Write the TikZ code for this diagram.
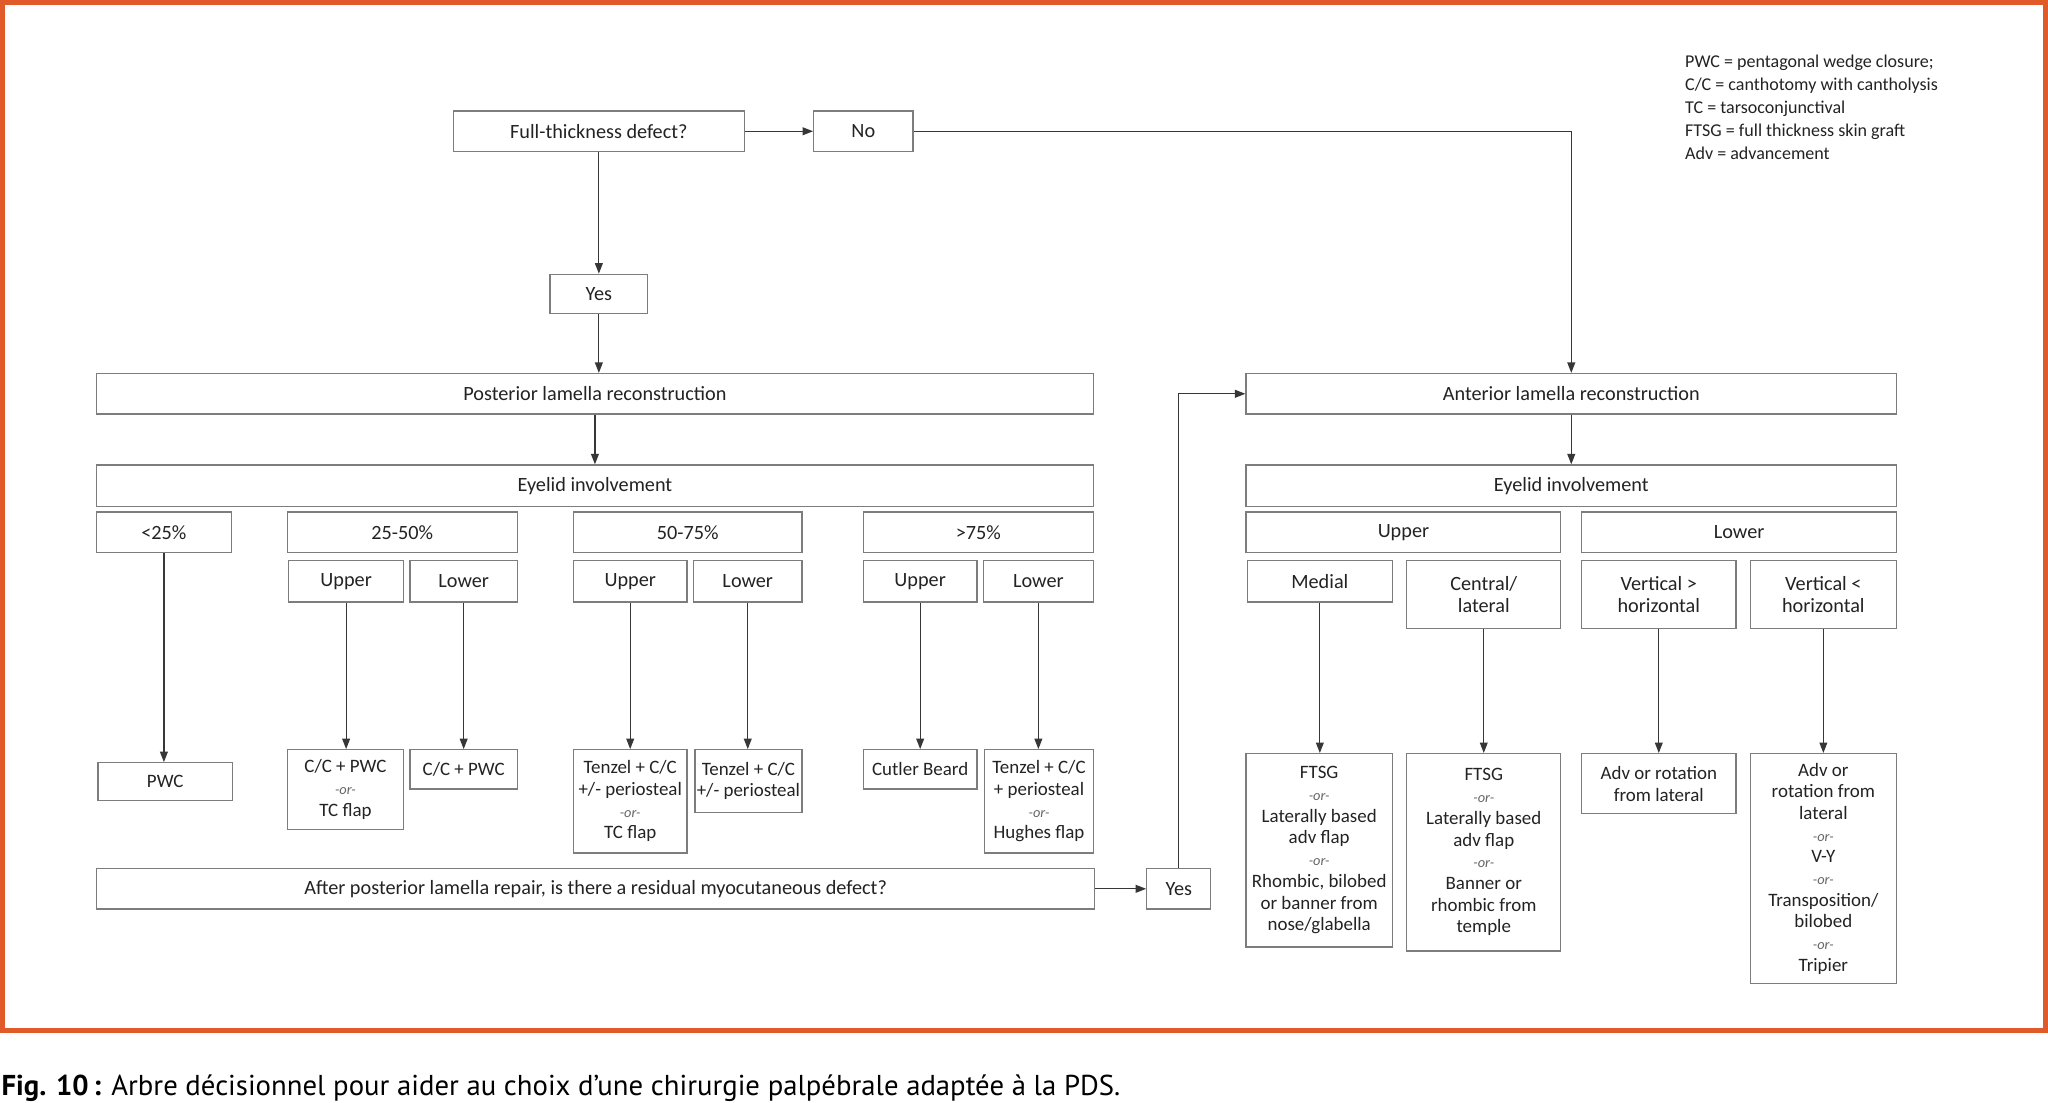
\documentclass[tikz,border=0pt]{standalone}
\usepackage{fontspec}
\setmainfont{Carlito}
\newfontfamily\capfont{PT Sans}
\usetikzlibrary{arrows.meta,calc}
\definecolor{orng}{HTML}{E05A2A}
\definecolor{boxc}{RGB}{125,125,125}
\definecolor{linec}{RGB}{55,55,55}
\definecolor{txtc}{RGB}{35,35,35}
\newcommand{\Bx}[7][]{%
  \node[bx,#1,minimum width={(#5-#3)*1pt},minimum height={(#6-#4)*1pt}] (#2) at ({(#3+#5)/2},{(#4+#6)/2}) {#7};}
\newcommand{\orr}{{\fontsize{11}{11}\selectfont\itshape\color{black!60}-or-}}
\begin{document}
\begin{tikzpicture}[x=1pt,y=-1pt,
  bx/.style={draw=boxc,line width=1pt,fill=white,inner sep=0pt,align=center,text=txtc,
     font=\fontsize{15.5}{17}\selectfont},
  sm/.style={font=\fontsize{14.5}{16.6}\selectfont},
  arr/.style={draw=linec,line width=0.9pt,-{Triangle[length=8pt,width=6pt]}},
  ln/.style={draw=linec,line width=0.9pt}]
\useasboundingbox (0,0) rectangle (1568,844);
\fill[white] (0,0) rectangle (1568,844);
\draw[orng,line width=3.5pt] (1.75,1.75) rectangle (1566.25,789);

% top
\Bx{full}{347}{85}{570}{116}{Full-thickness defect?}
\Bx{no}{623}{85}{699}{116}{No}
\Bx{yesA}{421}{210}{496}{240}{Yes}
\Bx{post}{74}{286}{837}{317}{Posterior lamella reconstruction}
\Bx{eyeL}{74}{356}{837}{388}{Eyelid involvement}
\Bx{pA}{74}{392}{177}{423}{<25\%}
\Bx{pB}{220}{392}{396}{423}{25-50\%}
\Bx{pC}{439}{392}{614}{423}{50-75\%}
\Bx{pD}{661}{392}{837}{423}{>75\%}
\Bx{uA}{221}{429}{309}{461}{Upper}
\Bx{lA}{314}{429}{396}{461}{Lower}
\Bx{uB}{439}{429}{526}{461}{Upper}
\Bx{lB}{531}{429}{614}{461}{Lower}
\Bx{uC}{661}{429}{748}{461}{Upper}
\Bx{lC}{753}{429}{837}{461}{Lower}
\Bx[sm]{rA}{75}{584}{178}{613}{PWC}
\Bx[sm]{rB}{220}{574}{309}{635}{C/C + PWC\\\orr\\TC flap}
\Bx[sm]{rC}{314}{574}{396}{604}{C/C + PWC}
\Bx[sm]{rD}{439}{574}{526}{653}{Tenzel + C/C\\+/- periosteal\\\orr\\TC flap}
\Bx[sm]{rE}{532}{574}{614}{622}{Tenzel + C/C\\+/- periosteal}
\Bx[sm]{rF}{661}{574}{748}{604}{Cutler Beard}
\Bx[sm]{rG}{754}{574}{837}{653}{Tenzel + C/C\\+ periosteal\\\orr\\Hughes flap}
\Bx{after}{74}{665}{838}{696}{After posterior lamella repair, is there a residual myocutaneous defect?}
\Bx{yesB}{878}{665}{927}{696}{Yes}

% right side
\Bx{ant}{954}{286}{1452}{317}{Anterior lamella reconstruction}
\Bx{eyeR}{954}{356}{1452}{388}{Eyelid involvement}
\Bx{uR}{954}{392}{1195}{423}{Upper}
\Bx{lR}{1211}{392}{1452}{423}{Lower}
\Bx{med}{955}{429}{1066}{461}{Medial}
\Bx{cen}{1077}{429}{1195}{481}{Central/\\lateral}
\Bx{vg}{1211}{429}{1329}{481}{Vertical >\\horizontal}
\Bx{vl}{1340}{429}{1452}{481}{Vertical <\\horizontal}
\Bx[sm]{fA}{954}{577}{1066}{725}{FTSG\\\orr\\Laterally based\\adv flap\\\orr\\Rhombic, bilobed\\or banner from\\nose/glabella}
\Bx[sm]{fB}{1077}{577}{1195}{728}{FTSG\\\orr\\Laterally based\\adv flap\\\orr\\Banner or\\rhombic from\\temple}
\Bx[sm]{fC}{1211}{577}{1329}{623}{Adv or rotation\\from lateral}
\Bx[sm]{fD}{1340}{577}{1452}{753}{Adv or\\rotation from\\lateral\\\orr\\V-Y\\\orr\\Transposition/\\bilobed\\\orr\\Tripier}

% legend
\node[anchor=north west,align=left,inner sep=0pt,text=txtc,font=\fontsize{13.8}{17.5}\selectfont] (leg) at (1290,42)
 {PWC = pentagonal wedge closure;\\C/C = canthotomy with cantholysis\\TC = tarsoconjunctival\\FTSG = full thickness skin graft\\Adv = advancement};

% connectors
\draw[arr] (full.east) -- (no.west);
\draw[arr] (full.south) -- (full.south |- yesA.north);
\draw[arr] (no.east) -| (ant.north);
\draw[arr] (yesA.south) -- (yesA.south |- post.north);
\draw[arr] (post.south) -- (eyeL.north);
\draw[arr] (pA.south) -- (pA.south |- rA.north);
\draw[arr] (uA.south) -- (uA.south |- rB.north);
\draw[arr] (lA.south) -- (lA.south |- rC.north);
\draw[arr] (uB.south) -- (uB.south |- rD.north);
\draw[arr] (lB.south) -- (lB.south |- rE.north);
\draw[arr] (uC.south) -- (uC.south |- rF.north);
\draw[arr] (lC.south) -- (lC.south |- rG.north);
\draw[arr] (after.east) -- (yesB.west);
\draw[arr] (yesB.north) |- (ant.west);
\draw[arr] (ant.south) -- (eyeR.north);
\draw[arr] (med.south) -- (med.south |- fA.north);
\draw[arr] (cen.south) -- (cen.south |- fB.north);
\draw[arr] (vg.south) -- (vg.south |- fC.north);
\draw[arr] (vl.south) -- (vl.south |- fD.north);

% caption
\node[anchor=base west,inner sep=0pt,font=\capfont\fontsize{22}{24}\selectfont] (cap) at (1,839)
 {\textbf{Fig. 10\,:} Arbre décisionnel pour aider au choix d’une chirurgie palpébrale adaptée à la PDS.};
\end{tikzpicture}
\end{document}
